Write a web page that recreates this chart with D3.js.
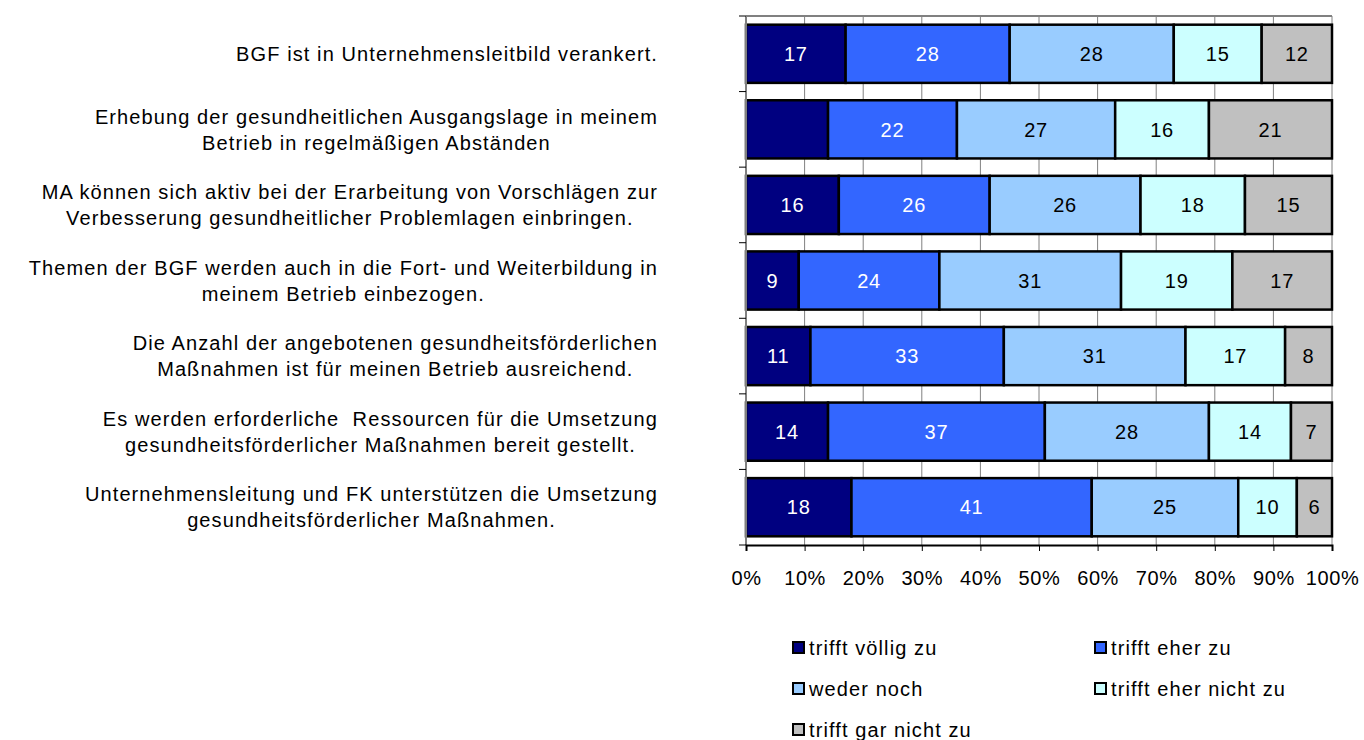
<!DOCTYPE html>
<html>
<head>
<meta charset="utf-8">
<script src="https://cdn.jsdelivr.net/npm/d3@7"></script>
<style>
  body { margin: 0; background: #fff; }
  text { font-family: "Liberation Sans", Arial, sans-serif; white-space: pre; }
</style>
</head>
<body>
<svg id="chart" width="1364" height="740"></svg>
<script>
// categories (each entry is the wrapped lines of one label)
const categories = [
  ["BGF ist in Unternehmensleitbild verankert."],
  ["Erhebung der gesundheitlichen Ausgangslage in meinem", "Betrieb in regelmäßigen Abständen"],
  ["MA können sich aktiv bei der Erarbeitung von Vorschlägen zur", "Verbesserung gesundheitlicher Problemlagen einbringen."],
  ["Themen der BGF werden auch in die Fort- und Weiterbildung in", "meinem Betrieb einbezogen."],
  ["Die Anzahl der angebotenen gesundheitsförderlichen", "Maßnahmen ist für meinen Betrieb ausreichend."],
  ["Es werden erforderliche  Ressourcen für die Umsetzung", "gesundheitsförderlicher Maßnahmen bereit gestellt."],
  ["Unternehmensleitung und FK unterstützen die Umsetzung", "gesundheitsförderlicher Maßnahmen."]
]
const series = ["trifft völlig zu", "trifft eher zu", "weder noch", "trifft eher nicht zu", "trifft gar nicht zu"]
const colours = ["#000080", "#3366FF", "#99CCFF", "#CCFFFF", "#C0C0C0"]
const labelColours = ["#fff", "#fff", "#000", "#000", "#000"]

const vollig   = [17, 14, 16, 9, 11, 14, 18]
const eher     = [28, 22, 26, 24, 33, 37, 41]
const weder    = [28, 27, 26, 31, 31, 28, 25]
const ehernein = [15, 16, 18, 19, 17, 14, 10]
const garnicht = [12, 21, 15, 17, 8, 7, 6]
// the first segment of the second bar carries no value label in the original
const hiddenLabels = [[1, 0]]

const xTicks = [0, 0.1, 0.2, 0.3, 0.4, 0.5, 0.6, 0.7, 0.8, 0.9, 1]

let svg = d3.select("#chart")
let plotL = 746, plotR = 1332, plotT = 16, plotB = 545

let x = d3.scaleLinear().domain([0, 1]).range([plotL, plotR])
let y = d3.scaleBand().domain(d3.range(categories.length)).range([plotT, plotB]).paddingInner(0.23).paddingOuter(0.115)

let rows = categories.map((c, i) => {
  let vals = [vollig[i], eher[i], weder[i], ehernein[i], garnicht[i]]
  let total = d3.sum(vals)
  let acc = 0
  return vals.map((v, j) => {
    let s = { row: i, ser: j, v: v, x0: acc / total }
    acc += v
    s.x1 = acc / total
    return s
  })
})

// gridlines and frame
svg.append("g")
  .selectAll("line")
  .data(xTicks.slice(1))
  .enter().append("line")
  .attr("x1", d => x(d)).attr("x2", d => x(d))
  .attr("y1", plotT).attr("y2", plotB)
  .attr("stroke", "#808080")
  .attr("stroke-width", 1)
svg.append("line")
  .attr("x1", plotL).attr("x2", plotR)
  .attr("y1", plotT).attr("y2", plotT)
  .attr("stroke", "#808080").attr("stroke-width", 2)

// bars
let seg = svg.append("g").selectAll("g")
  .data(rows)
  .enter().append("g")
seg.selectAll("rect")
  .data(d => d)
  .enter().append("rect")
  .attr("x", d => x(d.x0))
  .attr("width", d => x(d.x1) - x(d.x0))
  .attr("y", d => y(d.row))
  .attr("height", y.bandwidth())
  .attr("fill", d => colours[d.ser])
  .attr("stroke", "#000")
  .attr("stroke-width", 2.5)
seg.selectAll("text")
  .data(d => d.filter(s => !hiddenLabels.some(h => h[0] == s.row && h[1] == s.ser)))
  .enter().append("text")
  .attr("x", d => (x(d.x0) + x(d.x1)) / 2)
  .attr("y", d => y(d.row) + y.bandwidth() / 2)
  .attr("dy", "0.36em")
  .attr("text-anchor", "middle")
  .attr("font-size", 20)
  .attr("letter-spacing", 0.8)
  .attr("fill", d => labelColours[d.ser])
  .text(d => d.v)

// left axis
let yAxis = svg.append("g")
yAxis.append("line")
  .attr("x1", plotL).attr("x2", plotL)
  .attr("y1", plotT).attr("y2", plotB)
  .attr("stroke", "#808080").attr("stroke-width", 2)
yAxis.selectAll("line.tick")
  .data(d3.range(categories.length + 1))
  .enter().append("line")
  .attr("class", "tick")
  .attr("x1", plotL - 7).attr("x2", plotL)
  .attr("y1", d => plotT + d * y.step()).attr("y2", d => plotT + d * y.step())
  .attr("stroke", "#000").attr("stroke-width", 1)

// bottom axis
let xAxis = svg.append("g")
  .attr("transform", "translate(0," + plotB + ")")
  .call(d3.axisBottom(x).tickValues(xTicks).tickFormat(d3.format(".0%")).tickSize(6).tickPadding(20))
xAxis.select(".domain").attr("stroke", "#000").attr("stroke-width", 2)
xAxis.selectAll("text")
  .attr("font-size", 20)
  .attr("letter-spacing", 0.6)
  .attr("fill", "#000")
  .style("font-family", "Liberation Sans, Arial, sans-serif")

// category labels: lines centred in a block whose right edge is fixed
let labelRight = 658
let lineGap = 26
categories.forEach((lines, i) => {
  let g = svg.append("g")
  let cy = y(i) + y.bandwidth() / 2
  let texts = lines.map((l, k) => g.append("text")
    .attr("font-size", 20)
    .attr("letter-spacing", 1.1)
    .attr("fill", "#000")
    .attr("y", cy + (k - (lines.length - 1) / 2) * lineGap)
    .attr("dy", "0.36em")
    .attr("text-anchor", "middle")
    .text(l))
  let widths = texts.map(t => t.node().getComputedTextLength())
  let w = d3.max(widths)
  texts.forEach(t => t.attr("x", labelRight - w / 2))
})

// legend
let legend = svg.append("g")
let legendPos = [[793, 648], [1095, 648], [793, 689], [1095, 689], [793, 730]]
series.forEach((s, j) => {
  let p = legendPos[j]
  legend.append("rect")
    .attr("x", p[0]).attr("y", p[1] - 6)
    .attr("width", 11).attr("height", 11)
    .attr("fill", colours[j])
    .attr("stroke", "#000").attr("stroke-width", 2)
  legend.append("text")
    .attr("x", p[0] + 16).attr("y", p[1])
    .attr("dy", "0.36em")
    .attr("font-size", 20)
    .attr("letter-spacing", 1.1)
    .text(s)
})
</script>
</body>
</html>
